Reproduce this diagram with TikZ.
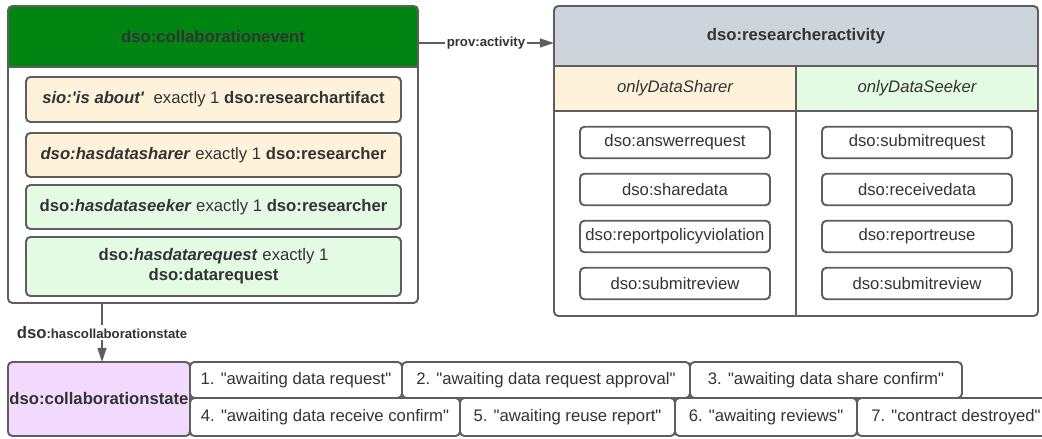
\documentclass[tikz,border=0pt]{standalone}
\usepackage{fontspec}
\setmainfont{Liberation Sans}
\usepackage{tikz}
\usetikzlibrary{positioning,arrows.meta}

\definecolor{linegray}{RGB}{94,94,94}
\definecolor{ink}{RGB}{51,51,51}
\definecolor{evtgreen}{RGB}{0,133,18}
\definecolor{actgray}{RGB}{206,212,220}
\definecolor{sharer}{RGB}{255,242,218}
\definecolor{seeker}{RGB}{227,250,227}
\definecolor{statepink}{RGB}{241,218,251}
\newcommand{\dq}{\textquotedbl}

\begin{document}
\begin{tikzpicture}[
 box/.style={draw=linegray,line width=1.1pt,rounded corners=2.5pt,text=ink,inner sep=0pt,outer sep=0pt,font=\fontsize{9.5}{11.5}\selectfont},
 restr/.style={box,minimum width=7.5cm,minimum height=0.88cm,align=center},
 actbox/.style={box,fill=white,minimum width=3.8cm,minimum height=0.63cm},
 statebox/.style={box,fill=white,minimum height=0.72cm},
 head/.style={text=ink,font=\fontsize{9.5}{11.5}\selectfont\bfseries},
 subhead/.style={text=ink,font=\fontsize{9.5}{11.5}\selectfont\itshape},
 sep/.style={draw=linegray,line width=1.1pt},
 conn/.style={draw=linegray,line width=1.1pt,-{Triangle[length=8pt,width=5pt]}},
 rel/.style={fill=white,text=ink,inner sep=1pt,font=\fontsize{7.5}{9}\selectfont\bfseries}]

\useasboundingbox (0,0) rectangle (20.84,-8.78);

% collaboration event
\node[box,fill=white,minimum width=8.2cm,minimum height=5.94cm,
 path picture={\fill[evtgreen] (path picture bounding box.north west) rectangle ([yshift=-1.22cm]path picture bounding box.north east);}]
 (evt) at (4.26,-3.09) {};
\draw[sep] ([yshift=-1.22cm]evt.north west) -- ([yshift=-1.22cm]evt.north east);
\node[head] (evthead) at (4.26,-0.73) {dso:collaborationevent};

\node[restr,fill=sharer,minimum height=0.9cm] (about) at (4.27,-1.99)
 {\textbf{\textit{sio:\textquotesingle is about\textquotesingle}}\ \ exactly 1 \textbf{dso:researchartifact}};
\node[restr,fill=sharer] (sharer) at (4.27,-3.1)
 {\textbf{\textit{dso:hasdatasharer}} exactly 1 \textbf{dso:researcher}};
\node[restr,fill=seeker] (seeker) at (4.27,-4.14)
 {\textbf{dso:\textit{hasdataseeker}} exactly 1 \textbf{dso:researcher}};
\node[restr,fill=seeker,minimum height=1.18cm] (request) at (4.27,-5.33)
 {\textbf{dso:\textit{hasdatarequest}} exactly 1\\ \textbf{dso:datarequest}};

% researcher activity
\node[box,fill=white,minimum width=9.68cm,minimum height=6.2cm,
 path picture={
  \fill[actgray] (path picture bounding box.north west) rectangle ([yshift=-1.2cm]path picture bounding box.north east);
  \fill[sharer] ([yshift=-1.2cm]path picture bounding box.north west) rectangle ([yshift=-2.1cm]path picture bounding box.north);
  \fill[seeker] ([yshift=-1.2cm]path picture bounding box.north) rectangle ([yshift=-2.1cm]path picture bounding box.north east);}]
 (act) at (15.92,-3.22) {};
\draw[sep] ([yshift=-1.2cm]act.north west) -- ([yshift=-1.2cm]act.north east)
 ([yshift=-2.1cm]act.north west) -- ([yshift=-2.1cm]act.north east)
 ([yshift=-1.2cm]act.north) -- (act.south);
\node[head] (acthead) at (15.92,-0.72) {dso:researcheractivity};
\node[subhead] (sharehead) at (13.5,-1.77) {onlyDataSharer};
\node[subhead] (seekhead) at (18.34,-1.77) {onlyDataSeeker};

\foreach \i/\a/\b in {1/answerrequest/submitrequest,2/sharedata/receivedata,
 3/reportpolicyviolation/reportreuse,4/submitreview/submitreview}{
 \node[actbox] (share\i) at (13.5,{-1.91-0.94*\i}) {dso:\a};
 \node[actbox] (seek\i) at (18.34,{-1.91-0.94*\i}) {dso:\b};
}

% collaboration state
\node[box,fill=statepink,minimum width=3.64cm,minimum height=1.48cm,font=\fontsize{9.5}{11.5}\selectfont\bfseries]
 (state) at (1.98,-7.98) {dso:collaborationstate};
\node[statebox,minimum width=4.24cm,anchor=north west] (s1) at (state.north east) {1. \dq awaiting data request\dq};
\node[statebox,minimum width=5.76cm,right=0pt of s1] (s2) {2. \dq awaiting data request approval\dq};
\node[statebox,minimum width=5.44cm,right=0pt of s2] (s3) {3. \dq awaiting data share confirm\dq};
\node[statebox,minimum height=0.76cm,minimum width=5.4cm,anchor=south west] (s4) at (state.south east) {4. \dq awaiting data receive confirm\dq};
\node[statebox,minimum height=0.76cm,minimum width=4.3cm,right=0pt of s4] (s5) {5. \dq awaiting reuse report\dq};
\node[statebox,minimum height=0.76cm,minimum width=3.64cm,right=0pt of s5] (s6) {6. \dq awaiting reviews\dq};
\node[statebox,minimum height=0.76cm,minimum width=3.96cm,right=0pt of s6] (s7) {7. \dq contract destroyed\dq};

% relations
\coordinate (provstart) at ([yshift=-0.74cm]evt.north east);
\draw[conn] (provstart) -- node[rel] {prov:activity} (provstart -| act.west);
\coordinate (statestart) at ([xshift=1.88cm]evt.south west);
\draw[conn] (statestart) -- node[rel] {{\fontsize{9.5}{11}\selectfont dso}:hascollaborationstate} (statestart |- state.north);
\end{tikzpicture}
\end{document}
